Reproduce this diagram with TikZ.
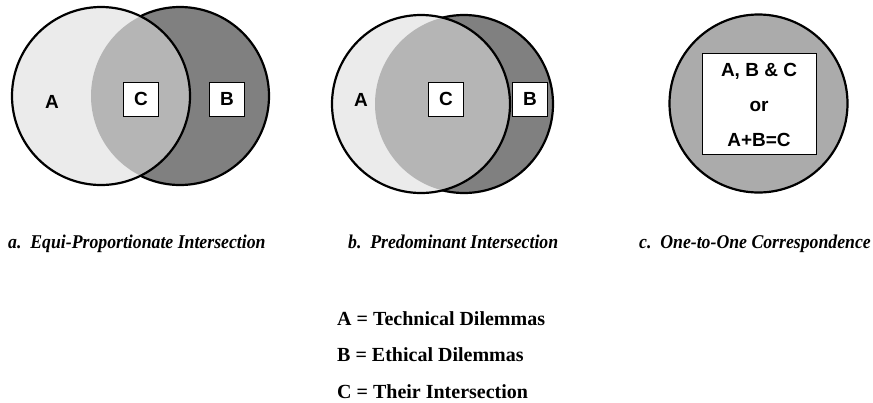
\documentclass[tikz,border=0pt]{standalone}
\usepackage{fontspec}
\setmainfont{Liberation Serif}
\setsansfont{Liberation Sans}
\newfontfamily\capfont{Liberation Serif}[FakeStretch=0.91]
\begin{document}
\begin{tikzpicture}[x=1pt,y=-1pt]
\definecolor{fillA}{HTML}{EBEBEB}
\definecolor{fillB}{HTML}{808080}
\definecolor{fillC}{HTML}{B5B5B5}
\definecolor{fillD}{HTML}{ABABAB}
\tikzset{
  ring/.style={draw=black,line width=2.2pt},
  lbl/.style={font=\sffamily\bfseries\fontsize{19}{21}\selectfont,inner sep=0pt},
  boxlbl/.style={lbl,draw=black,line width=0.7pt,fill=white,minimum width=35pt,minimum height=34pt},
  caption/.style={font=\capfont\bfseries\itshape\fontsize{19.5}{22}\selectfont,inner sep=0pt},
  legend/.style={font=\rmfamily\bfseries\fontsize{20}{24}\selectfont,inner sep=0pt,anchor=base west}
}
\useasboundingbox (0,0) rectangle (873,402);
% ---- panel a
\coordinate (aA) at (101,96);
\coordinate (aB) at (180,96);
\fill[fillB] (aB) circle (89);
\draw[ring] (aB) circle (89);
\fill[fillA] (aA) circle (89);
\begin{scope}
  \clip (aA) circle (89);
  \fill[fillC] (aB) circle (89);
\end{scope}
\draw[ring] (aA) circle (89);
\node[lbl] (aLA) at (52,102) {A};
\node[boxlbl] (aLC) at (141,99) {C};
\node[boxlbl] (aLB) at (227,99) {B};
% ---- panel b
\coordinate (bA) at (421,104);
\coordinate (bB) at (464,104);
\fill[fillB] (bB) circle (89);
\draw[ring] (bB) circle (89);
\fill[fillA] (bA) circle (89);
\begin{scope}
  \clip (bA) circle (89);
  \fill[fillC] (bB) circle (89);
\end{scope}
\draw[ring] (bA) circle (89);
\node[lbl] (bLA) at (361,100) {A};
\node[boxlbl] (bLC) at (446,99) {C};
\node[boxlbl] (bLB) at (530,99) {B};
% ---- panel c
\coordinate (cO) at (758.5,103.5);
\fill[fillD] (cO) circle (89);
\draw[ring] (cO) circle (89);
\node[draw=black,line width=0.7pt,fill=white,minimum width=114pt,minimum height=101pt,inner sep=0pt] (cBox) at (759,103.5) {};
\node[lbl] (cL1) at (759,71) {A, B \& C};
\node[lbl] (cL2) at (759,106) {or};
\node[lbl] (cL3) at (759,140) {A+B=C};
% ---- captions
\node[caption,anchor=base west] (capA) at (8,248) {a.\ \ Equi-Proportionate Intersection};
\node[caption,anchor=base west] (capB) at (348,248) {b.\ \ Predominant Intersection};
\node[caption,anchor=base east] (capC) at (871,248) {c.\ \ One-to-One Correspondence};
% ---- legend
\node[legend] (legA) at (337,325) {A = Technical Dilemmas};
\node[legend] (legB) at (337,361.5) {B = Ethical Dilemmas};
\node[legend] (legC) at (337,398) {C = Their Intersection};
\end{tikzpicture}
\end{document}
